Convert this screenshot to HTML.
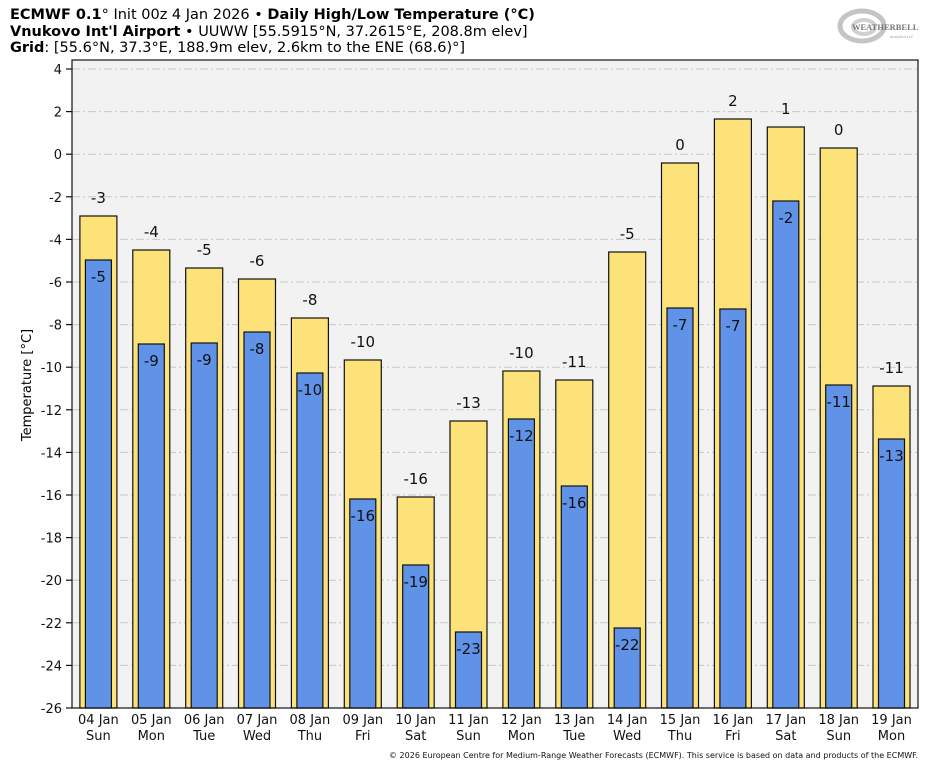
<!DOCTYPE html>
<html><head><meta charset="utf-8"><style>
html,body{margin:0;padding:0;background:#fff;}
svg{display:block;font-family:"DejaVu Sans","Liberation Sans",sans-serif;}
</style></head><body>
<svg width="935" height="768" viewBox="0 0 935 768" xmlns="http://www.w3.org/2000/svg">
<text x="10" y="19" font-size="14.5"><tspan font-weight="bold">ECMWF 0.1</tspan>° Init 00z 4 Jan 2026 • <tspan font-weight="bold">Daily High/Low Temperature (°C)</tspan></text>
<text x="10" y="36" font-size="14.5"><tspan font-weight="bold">Vnukovo Int'l Airport</tspan> • UUWW [55.5915°N, 37.2615°E, 208.8m elev]</text>
<text x="10" y="52" font-size="14.5"><tspan font-weight="bold">Grid</tspan>: [55.6°N, 37.3°E, 188.9m elev, 2.6km to the ENE (68.6)°]</text>
<g>
<ellipse cx="862" cy="26" rx="22" ry="15" fill="none" stroke="#c4c4c4" stroke-width="5"/>
<ellipse cx="864" cy="27" rx="11" ry="7" fill="none" stroke="#d0d0d0" stroke-width="4"/>
<text x="852" y="30" font-size="8.5" font-family="Liberation Serif,serif" fill="#777" font-weight="bold">WEATHERBELL</text>
<text x="890" y="38" font-size="3.5" fill="#999">Analytics LLC</text>
</g>
<rect x="72" y="60" width="846" height="648" fill="#f2f2f2"/>
<g stroke="#c8c8c8" stroke-width="1" stroke-dasharray="8,3,2,3">
<line x1="72" x2="918" y1="69" y2="69"/><line x1="72" x2="918" y1="111.6" y2="111.6"/><line x1="72" x2="918" y1="154.2" y2="154.2"/><line x1="72" x2="918" y1="196.8" y2="196.8"/><line x1="72" x2="918" y1="239.4" y2="239.4"/><line x1="72" x2="918" y1="282" y2="282"/><line x1="72" x2="918" y1="324.6" y2="324.6"/><line x1="72" x2="918" y1="367.2" y2="367.2"/><line x1="72" x2="918" y1="409.8" y2="409.8"/><line x1="72" x2="918" y1="452.4" y2="452.4"/><line x1="72" x2="918" y1="495" y2="495"/><line x1="72" x2="918" y1="537.6" y2="537.6"/><line x1="72" x2="918" y1="580.2" y2="580.2"/><line x1="72" x2="918" y1="622.8" y2="622.8"/><line x1="72" x2="918" y1="665.4" y2="665.4"/>
</g>
<g stroke="#111" stroke-width="1.2">
<line x1="66" x2="72" y1="69" y2="69"/><line x1="66" x2="72" y1="111.6" y2="111.6"/><line x1="66" x2="72" y1="154.2" y2="154.2"/><line x1="66" x2="72" y1="196.8" y2="196.8"/><line x1="66" x2="72" y1="239.4" y2="239.4"/><line x1="66" x2="72" y1="282" y2="282"/><line x1="66" x2="72" y1="324.6" y2="324.6"/><line x1="66" x2="72" y1="367.2" y2="367.2"/><line x1="66" x2="72" y1="409.8" y2="409.8"/><line x1="66" x2="72" y1="452.4" y2="452.4"/><line x1="66" x2="72" y1="495" y2="495"/><line x1="66" x2="72" y1="537.6" y2="537.6"/><line x1="66" x2="72" y1="580.2" y2="580.2"/><line x1="66" x2="72" y1="622.8" y2="622.8"/><line x1="66" x2="72" y1="665.4" y2="665.4"/><line x1="66" x2="72" y1="708" y2="708"/>
</g>
<g font-size="13" text-anchor="end" fill="#111">
<text x="62" y="74">4</text><text x="62" y="116.6">2</text><text x="62" y="159.2">0</text><text x="62" y="201.8">-2</text><text x="62" y="244.4">-4</text><text x="62" y="287">-6</text><text x="62" y="329.6">-8</text><text x="62" y="372.2">-10</text><text x="62" y="414.8">-12</text><text x="62" y="457.4">-14</text><text x="62" y="500">-16</text><text x="62" y="542.6">-18</text><text x="62" y="585.2">-20</text><text x="62" y="627.8">-22</text><text x="62" y="670.4">-24</text><text x="62" y="713">-26</text>
</g>
<text transform="translate(31,385) rotate(-90)" font-size="13" text-anchor="middle">Temperature [°C]</text>
<g stroke="#111" stroke-width="1.2" fill="#fde27a">
<rect x="79.9" y="216" width="37" height="492"/><rect x="132.8" y="250" width="37" height="458"/><rect x="185.7" y="268" width="37" height="440"/><rect x="238.5" y="279" width="37" height="429"/><rect x="291.4" y="318" width="37" height="390"/><rect x="344.3" y="360" width="37" height="348"/><rect x="397.2" y="497" width="37" height="211"/><rect x="450" y="421" width="37" height="287"/><rect x="502.9" y="371" width="37" height="337"/><rect x="555.8" y="380" width="37" height="328"/><rect x="608.7" y="252" width="37" height="456"/><rect x="661.5" y="163" width="37" height="545"/><rect x="714.4" y="119" width="37" height="589"/><rect x="767.3" y="127" width="37" height="581"/><rect x="820.2" y="148" width="37" height="560"/><rect x="873" y="386" width="37" height="322"/>
</g>
<g stroke="#111" stroke-width="1.2" fill="#6092e8">
<rect x="85.4" y="260" width="26" height="448"/><rect x="138.3" y="344" width="26" height="364"/><rect x="191.2" y="343" width="26" height="365"/><rect x="244" y="332" width="26" height="376"/><rect x="296.9" y="373" width="26" height="335"/><rect x="349.8" y="499" width="26" height="209"/><rect x="402.7" y="565" width="26" height="143"/><rect x="455.5" y="632" width="26" height="76"/><rect x="508.4" y="419" width="26" height="289"/><rect x="561.3" y="486" width="26" height="222"/><rect x="614.2" y="628" width="26" height="80"/><rect x="667" y="308" width="26" height="400"/><rect x="719.9" y="309" width="26" height="399"/><rect x="772.8" y="201" width="26" height="507"/><rect x="825.7" y="385" width="26" height="323"/><rect x="878.5" y="439" width="26" height="269"/>
</g>
<rect x="72" y="60" width="846" height="648" fill="none" stroke="#111" stroke-width="1.2"/>
<g font-size="15" text-anchor="middle" fill="#111">
<text x="98.4" y="203">-3</text><text x="151.3" y="237">-4</text><text x="204.2" y="255">-5</text><text x="257" y="266">-6</text><text x="309.9" y="305">-8</text><text x="362.8" y="347">-10</text><text x="415.7" y="484">-16</text><text x="468.5" y="408">-13</text><text x="521.4" y="358">-10</text><text x="574.3" y="367">-11</text><text x="627.2" y="239">-5</text><text x="680" y="150">0</text><text x="732.9" y="106">2</text><text x="785.8" y="114">1</text><text x="838.7" y="135">0</text><text x="891.5" y="373">-11</text>
<text x="98.4" y="282">-5</text><text x="151.3" y="366">-9</text><text x="204.2" y="365">-9</text><text x="257" y="354">-8</text><text x="309.9" y="395">-10</text><text x="362.8" y="521">-16</text><text x="415.7" y="587">-19</text><text x="468.5" y="654">-23</text><text x="521.4" y="441">-12</text><text x="574.3" y="508">-16</text><text x="627.2" y="650">-22</text><text x="680" y="330">-7</text><text x="732.9" y="331">-7</text><text x="785.8" y="223">-2</text><text x="838.7" y="407">-11</text><text x="891.5" y="461">-13</text>
</g>
<g font-size="13" text-anchor="middle" fill="#111">
<text x="98.4" y="724">04 Jan</text><text x="98.4" y="740">Sun</text>
<text x="151.3" y="724">05 Jan</text><text x="151.3" y="740">Mon</text>
<text x="204.2" y="724">06 Jan</text><text x="204.2" y="740">Tue</text>
<text x="257" y="724">07 Jan</text><text x="257" y="740">Wed</text>
<text x="309.9" y="724">08 Jan</text><text x="309.9" y="740">Thu</text>
<text x="362.8" y="724">09 Jan</text><text x="362.8" y="740">Fri</text>
<text x="415.7" y="724">10 Jan</text><text x="415.7" y="740">Sat</text>
<text x="468.5" y="724">11 Jan</text><text x="468.5" y="740">Sun</text>
<text x="521.4" y="724">12 Jan</text><text x="521.4" y="740">Mon</text>
<text x="574.3" y="724">13 Jan</text><text x="574.3" y="740">Tue</text>
<text x="627.2" y="724">14 Jan</text><text x="627.2" y="740">Wed</text>
<text x="680" y="724">15 Jan</text><text x="680" y="740">Thu</text>
<text x="732.9" y="724">16 Jan</text><text x="732.9" y="740">Fri</text>
<text x="785.8" y="724">17 Jan</text><text x="785.8" y="740">Sat</text>
<text x="838.7" y="724">18 Jan</text><text x="838.7" y="740">Sun</text>
<text x="891.5" y="724">19 Jan</text><text x="891.5" y="740">Mon</text>
</g>
<text x="918" y="758" font-size="8" text-anchor="end" fill="#111">© 2026 European Centre for Medium-Range Weather Forecasts (ECMWF). This service is based on data and products of the ECMWF.</text>
</svg>
</body></html>
